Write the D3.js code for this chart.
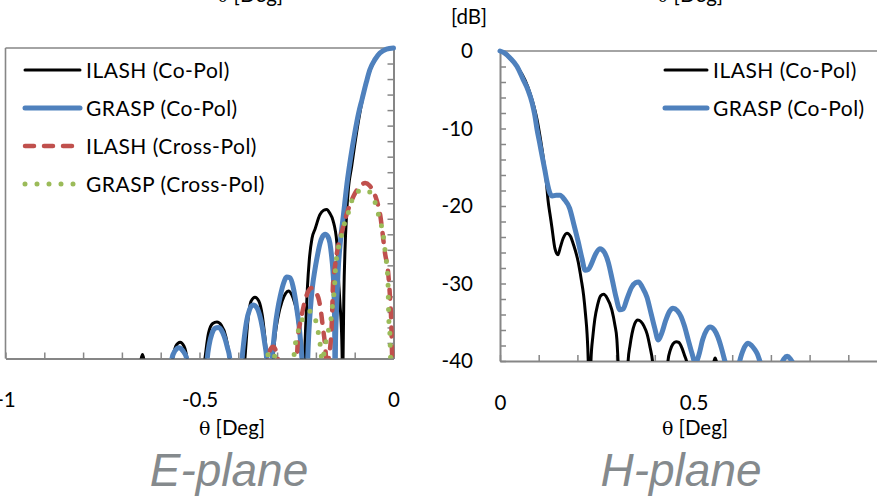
<!DOCTYPE html>
<html>
<head>
<meta charset="utf-8">
<script src="https://cdn.jsdelivr.net/npm/d3@7"></script>
<style>
  html, body { margin: 0; padding: 0; background: #fff; }
  svg { display: block; }
</style>
</head>
<body>
<svg id="chart" width="877" height="498"></svg>
<script>
// ---------------- DATA ----------------
// E-plane, theta [deg] vs level [dB]
const eIlashCo = [[-1,-50],[-0.70,-50],[-0.66,-45],[-0.652,-40.5],[-0.647,-39.5],[-0.642,-40.5],[-0.634,-45],[-0.60,-50],
 [-0.578,-43],[-0.569,-40],[-0.561,-38.4],[-0.55,-37.9],[-0.54,-38.4],[-0.532,-40],[-0.525,-43],[-0.51,-50],
 [-0.494,-43],[-0.486,-40],[-0.477,-36.8],[-0.466,-35.5],[-0.455,-35.3],[-0.444,-35.7],[-0.432,-37.2],[-0.424,-39.5],[-0.418,-43],[-0.405,-50],
 [-0.39,-43],[-0.383,-40],[-0.376,-35.5],[-0.367,-32.6],[-0.357,-32.1],[-0.347,-32.6],[-0.338,-34.5],[-0.331,-37.5],[-0.326,-40],[-0.321,-44],[-0.317,-50],
 [-0.313,-43],[-0.31,-40],[-0.305,-37],[-0.299,-35],[-0.287,-32.6],[-0.278,-31.6],[-0.271,-31.3],[-0.262,-31.8],[-0.255,-32.8],[-0.249,-34],[-0.243,-36.5],[-0.238,-39],[-0.235,-43],[-0.232,-50],
 [-0.229,-40],[-0.226,-35.5],[-0.222,-31],[-0.217,-27.3],[-0.21,-24.5],[-0.202,-23.3],[-0.19,-21.5],[-0.18,-20.9],[-0.172,-20.8],[-0.164,-21.3],[-0.156,-22.2],[-0.146,-25.1],[-0.143,-28.6],[-0.138,-32.9],[-0.1335,-37.2],[-0.132,-41],[-0.131,-46],
 [-0.13,-40],[-0.128,-32],[-0.125,-26],[-0.121,-21.5],[-0.116,-18],[-0.108,-15.3],[-0.1,-12.5],[-0.09,-9.3],[-0.08,-6.6],[-0.07,-4.4],[-0.06,-2.8],[-0.048,-1.5],[-0.034,-0.6],[-0.018,-0.15],[0,0]];

const eGraspCo = [[-1,-50],[-0.60,-50],
 [-0.58,-50],[-0.575,-43],[-0.571,-40],[-0.563,-39],[-0.553,-38.6],[-0.543,-39],[-0.533,-40],[-0.528,-43],[-0.52,-50],
 [-0.49,-50],[-0.484,-43],[-0.48,-40],[-0.475,-38.2],[-0.468,-36.8],[-0.46,-36.1],[-0.452,-36],[-0.444,-36.3],[-0.436,-37.2],[-0.428,-38.6],[-0.422,-40],[-0.418,-43],[-0.41,-50],
 [-0.40,-50],[-0.394,-44],[-0.39,-40],[-0.385,-37.5],[-0.379,-35.3],[-0.371,-33.7],[-0.362,-33.1],[-0.353,-33.4],[-0.345,-34.4],[-0.338,-36],[-0.332,-38],[-0.327,-40],[-0.324,-43],[-0.322,-50],
 [-0.316,-44],[-0.313,-40],[-0.309,-37.8],[-0.305,-35.9],[-0.299,-33.8],[-0.292,-32],[-0.284,-30.4],[-0.275,-29.5],[-0.267,-29.6],[-0.259,-30.7],[-0.254,-32],[-0.249,-33.7],[-0.244,-35.5],[-0.24,-37.5],[-0.236,-40],[-0.233,-44],[-0.229,-50],
 [-0.226,-48],[-0.223,-44],[-0.221,-40],[-0.218,-36.5],[-0.214,-33.5],[-0.209,-30.8],[-0.203,-28.7],[-0.197,-27],[-0.19,-25.3],[-0.183,-24.3],[-0.176,-24],[-0.169,-24.3],[-0.164,-25.1],[-0.16,-26.6],[-0.156,-28.8],[-0.153,-32],[-0.1515,-37],[-0.1505,-44],
 [-0.1495,-38],[-0.147,-34],[-0.143,-29],[-0.137,-25],[-0.129,-21.5],[-0.12,-17.5],[-0.11,-14],[-0.1,-11],[-0.09,-8.4],[-0.081,-6.6],[-0.07,-4.4],[-0.061,-2.8],[-0.048,-1.5],[-0.035,-0.65],[-0.018,-0.15],[0,0]];

const eIlashCross = [[-1,-50],[-0.34,-50],[-0.327,-43],[-0.323,-40],[-0.317,-38.8],[-0.31,-38.5],[-0.304,-38.9],[-0.298,-40],[-0.294,-43],[-0.285,-50],
 [-0.262,-50],[-0.253,-43],[-0.249,-40],[-0.246,-37.2],[-0.241,-35.5],[-0.236,-34.3],[-0.228,-32.5],[-0.219,-31.3],[-0.21,-30.9],[-0.2,-31.5],[-0.192,-32.5],[-0.186,-34.3],[-0.182,-36],[-0.177,-38],[-0.174,-40],[-0.171,-45],
 [-0.169,-42],[-0.167,-40],[-0.164,-38.9],[-0.16,-36.5],[-0.158,-34],[-0.156,-30.5],[-0.151,-28.2],[-0.143,-25.6],[-0.13,-23.1],[-0.12,-21.3],[-0.11,-19.9],[-0.099,-18.7],[-0.086,-17.8],[-0.073,-17.4],[-0.062,-17.7],[-0.053,-18.4],[-0.046,-19.2],[-0.04,-20.2],[-0.034,-21.6],[-0.03,-23.1],[-0.022,-26.4],[-0.014,-28.8],[-0.009,-32.1],[-0.006,-35],[-0.004,-38.9],[-0.003,-41],[0,-50]];

const eGraspCross = [[-1,-50],[-0.345,-50],[-0.331,-42],[-0.326,-40],[-0.32,-39.2],[-0.315,-39],[-0.31,-39.3],[-0.305,-40],[-0.3,-42],[-0.285,-50],
 [-0.27,-50],[-0.261,-43],[-0.257,-40],[-0.254,-38.5],[-0.247,-36.8],[-0.241,-35.7],[-0.233,-34.8],[-0.223,-34.1],[-0.214,-33.9],[-0.206,-34.2],[-0.2,-35.2],[-0.194,-36.6],[-0.189,-38.2],[-0.186,-39.7],[-0.183,-40.3],
 [-0.18,-39.6],[-0.176,-38.3],[-0.171,-37.2],[-0.166,-36],[-0.16,-34.5],[-0.158,-33.5],[-0.155,-32.3],[-0.152,-30.8],[-0.15,-28.8],[-0.143,-26],[-0.136,-24.6],[-0.13,-23.2],[-0.124,-22.3],[-0.117,-21.3],[-0.104,-19.2],[-0.092,-18.5],[-0.081,-18.3],[-0.068,-18.4],[-0.055,-18.9],[-0.045,-20.3],[-0.035,-22.2],[-0.027,-23.9],[-0.022,-26],[-0.017,-28.2],[-0.014,-30.5],[-0.013,-33],[-0.012,-35],[-0.009,-37.2],[-0.008,-39.3],[-0.006,-41],[0,-50]];

// H-plane
const hIlashCo = [[0,0],[0.013,-0.3],[0.026,-1],[0.047,-2.2],[0.065,-3.8],[0.078,-5.5],[0.088,-7.2],[0.096,-8.9],[0.104,-11.2],[0.113,-14.2],[0.12,-17],[0.124,-19.2],[0.129,-21],[0.134,-22.7],[0.142,-25.5],[0.15,-26.3],[0.156,-25.3],[0.163,-24.2],[0.173,-23.5],[0.182,-23.9],[0.19,-25],[0.202,-27.2],[0.21,-29.5],[0.216,-31.5],[0.221,-34],[0.225,-36.5],[0.228,-40],[0.23,-45],
 [0.232,-45],[0.235,-40],[0.24,-36.8],[0.245,-34.6],[0.252,-32.8],[0.26,-31.6],[0.268,-31.4],[0.277,-31.9],[0.289,-33.4],[0.297,-35.4],[0.302,-37.2],[0.305,-40],[0.309,-45],[0.318,-50],
 [0.327,-45],[0.331,-40],[0.336,-38],[0.341,-36.5],[0.348,-35.2],[0.356,-34.7],[0.364,-34.9],[0.372,-35.5],[0.38,-36.5],[0.388,-38.3],[0.394,-40],[0.4,-44],[0.415,-50],
 [0.428,-44],[0.434,-40],[0.44,-38.6],[0.447,-37.8],[0.455,-37.5],[0.462,-37.6],[0.47,-38.3],[0.477,-39.3],[0.483,-40.3],[0.49,-44],[0.52,-50],
 [0.548,-42],[0.553,-40],[0.556,-39.6],[0.559,-40],[0.565,-42],[0.6,-50],[1,-50]];

const hGraspCo = [[0,0],[0.013,-0.3],[0.026,-0.9],[0.044,-2],[0.06,-3.7],[0.072,-5],[0.083,-6.7],[0.09,-8.3],[0.096,-10.2],[0.103,-12],[0.109,-13.6],[0.116,-15.4],[0.122,-17],[0.128,-18.2],[0.135,-18.7],[0.145,-18.6],[0.155,-18.6],[0.167,-19.2],[0.18,-20.3],[0.19,-22.2],[0.202,-24.6],[0.212,-26.8],[0.22,-28.3],[0.228,-28.2],[0.236,-27.5],[0.246,-26.3],[0.258,-25.5],[0.27,-26],[0.28,-27.3],[0.29,-29.5],[0.3,-31.8],[0.31,-33.4],[0.318,-33.3],[0.328,-32],[0.34,-30.5],[0.35,-29.9],[0.358,-29.8],[0.368,-30.5],[0.38,-31.8],[0.39,-33.8],[0.4,-35.8],[0.409,-37.3],[0.418,-36.4],[0.428,-34.8],[0.438,-33.6],[0.447,-33.2],[0.458,-33.5],[0.468,-34.3],[0.476,-35.4],[0.486,-37.2],[0.496,-39],[0.505,-40.3],[0.514,-39.2],[0.524,-37.2],[0.534,-36],[0.543,-35.6],[0.554,-36],[0.563,-36.9],[0.572,-38.3],[0.581,-40],[0.592,-42],[0.604,-42.3],[0.615,-40.8],[0.624,-39.2],[0.633,-38.1],[0.641,-37.7],[0.65,-38],[0.658,-38.5],[0.665,-39.1],[0.672,-40.1],[0.69,-43],[0.71,-43],[0.726,-40.5],[0.734,-39.7],[0.742,-39.4],[0.75,-39.7],[0.757,-40.3],[0.77,-43],[0.8,-47],[1,-50]];

const eXTicks = [-1,-0.9,-0.8,-0.7,-0.6,-0.5,-0.4,-0.3,-0.2,-0.1,0];
const eXLabels = [-1,-0.5,0];
const hXTicks = [0,0.1,0.2,0.3,0.4,0.5,0.6,0.7,0.8,0.9,1];
const hXLabels = [0,0.5];
const yMinorTicks = [-40,-38,-36,-34,-32,-30,-28,-26,-24,-22,-20,-18,-16,-14,-12,-10,-8,-6,-4,-2,0];
const yLabels = [0,-10,-20,-30,-40];
const eLegend = ["ILASH (Co-Pol)","GRASP (Co-Pol)","ILASH (Cross-Pol)","GRASP (Cross-Pol)"];
const hLegend = ["ILASH (Co-Pol)","GRASP (Co-Pol)"];

// ---------------- STYLE ----------------
const axisColor = "#868686";
const font = "Lato, 'Open Sans', sans-serif";
const styles = {
  ilashCo:   {stroke:"#000000", width:3,   dash:null, cap:"round"},
  graspCo:   {stroke:"#4f81bd", width:5,   dash:null, cap:"round"},
  ilashCross:{stroke:"#c0504d", width:4.5, dash:"9,10", cap:"round"},
  graspCross:{stroke:"#9bbb59", width:5,   dash:"0,12", cap:"round"}
};

const svg = d3.select("#chart");
const fmt = d => String(d);

function thetaTitle(g, x, y) {
  const t = g.append("text").attr("x", x).attr("y", y).attr("text-anchor", "middle")
    .style("font-family", font).style("font-size", "20.5px").attr("fill", "#000");
  t.append("tspan").style("font-family", "'DejaVu Serif', serif").style("font-size", "19px").text("θ");
  t.append("tspan").text(" [Deg]");
}

function panel(cfg) {
  const x = d3.scaleLinear().domain(cfg.xDomain).range(cfg.xRange);
  const y = d3.scaleLinear().domain([-40, 0]).range(cfg.yRange);
  const g = svg.append("g");
  const [x0, x1] = cfg.xRange;
  const [yb, yt] = cfg.yRange;

  // frame (top & far side)
  g.append("line").attr("x1", x0).attr("x2", x1).attr("y1", yt).attr("y2", yt)
    .attr("stroke", axisColor).attr("stroke-width", 1.6);
  g.append("line").attr("x1", cfg.frameX).attr("x2", cfg.frameX).attr("y1", yt).attr("y2", yb)
    .attr("stroke", axisColor).attr("stroke-width", 1.6);

  // x axis ticks (inside)
  const xa = d3.axisBottom(x).tickValues(cfg.xTicks).tickSize(-6).tickSizeOuter(0).tickFormat("");
  const xg = g.append("g").attr("transform", `translate(0,${yb})`).call(xa);
  xg.select(".domain").attr("stroke", axisColor).attr("stroke-width", 2);
  xg.selectAll(".tick line").attr("stroke", axisColor).attr("stroke-width", 1.5);

  // x labels
  const xl = d3.axisBottom(x).tickValues(cfg.xLabels).tickSize(0).tickPadding(0).tickFormat(fmt);
  const xlg = g.append("g").attr("transform", `translate(0,${yb + 42})`).call(xl);
  xlg.select(".domain").remove();
  xlg.selectAll("text").style("font-family", font).style("font-size", "20.5px").attr("fill", "#000").attr("dy", "0.32em");

  // y axis at theta = 0, ticks inside the plot
  const yx = x(0);
  const ya = (cfg.yInsideRight ? d3.axisRight(y) : d3.axisLeft(y))
    .tickValues(yMinorTicks).tickSize(6).tickSizeOuter(0).tickFormat("");
  const yg = g.append("g").attr("transform", `translate(${yx},0)`).call(ya);
  yg.select(".domain").attr("stroke", axisColor).attr("stroke-width", 2);
  yg.selectAll(".tick line").attr("stroke", axisColor).attr("stroke-width", 1.5);

  if (cfg.yLabels) {
    const yl = d3.axisLeft(y).tickValues(yLabels).tickSize(0).tickPadding(27).tickFormat(fmt);
    const ylg = g.append("g").attr("transform", `translate(${yx},0)`).call(yl);
    ylg.select(".domain").remove();
    ylg.selectAll("text").style("font-family", font).style("font-size", "20.5px").attr("fill", "#000");
  }

  // clip
  const id = "clip" + cfg.name;
  svg.append("clipPath").attr("id", id).append("rect")
    .attr("x", Math.min(x0, x1) - 3).attr("y", yt - 5)
    .attr("width", Math.abs(x1 - x0) + 6).attr("height", yb - yt + 5);

  const line = d3.line().x(d => x(d[0])).y(d => y(d[1])).curve(d3.curveMonotoneX);
  const lg = g.append("g").attr("clip-path", `url(#${id})`);
  cfg.series.forEach(s => {
    const st = styles[s.style];
    lg.append("path").datum(s.data).attr("d", line)
      .attr("fill", "none").attr("stroke", st.stroke).attr("stroke-width", st.width)
      .attr("stroke-linecap", st.cap).attr("stroke-linejoin", "round")
      .attr("stroke-dasharray", st.dash);
  });

  // legend
  const leg = g.append("g");
  cfg.legend.forEach((name, i) => {
    const st = styles[cfg.legendStyles[i]];
    const ly = cfg.legendY[i];
    leg.append("line").attr("x1", cfg.legendX[0]).attr("x2", cfg.legendX[1]).attr("y1", ly).attr("y2", ly)
      .attr("stroke", st.stroke).attr("stroke-width", st.width).attr("stroke-linecap", st.cap)
      .attr("stroke-dasharray", st.dash);
    leg.append("text").attr("x", cfg.legendX[1] + 6).attr("y", ly).attr("dy", "0.36em")
      .style("font-family", font).style("font-size", "21px").style("letter-spacing", "0.5px")
      .attr("fill", "#000").text(name);
  });

  // axis title
  thetaTitle(g, cfg.titleX, 435);
  // partial title from the panel above
  thetaTitle(g, cfg.topTitleX, 2);
  // plane label
  g.append("text").attr("x", cfg.planeX).attr("y", 486).attr("text-anchor", "middle")
    .style("font-family", "'Liberation Sans', Arial, sans-serif").style("font-style", "italic")
    .style("font-size", "46px").attr("fill", "#858a8d").text(cfg.plane);
}

panel({
  name: "E", xDomain: [-1, 0], xRange: [5.5, 393.5], yRange: [358.5, 48], frameX: 5.5,
  xTicks: eXTicks, xLabels: eXLabels, yInsideRight: false, yLabels: false,
  series: [
    {data: eIlashCo, style: "ilashCo"},
    {data: eGraspCo, style: "graspCo"},
    {data: eIlashCross, style: "ilashCross"},
    {data: eGraspCross, style: "graspCross"}
  ],
  legend: eLegend, legendStyles: ["ilashCo","graspCo","ilashCross","graspCross"],
  legendX: [25, 80], legendY: [70, 108, 146, 184],
  titleX: 232, topTitleX: 250, planeX: 229, plane: "E-plane"
});

panel({
  name: "H", xDomain: [0, 1], xRange: [500, 887], yRange: [361, 51], frameX: 887,
  xTicks: hXTicks, xLabels: hXLabels, yInsideRight: true, yLabels: true,
  series: [
    {data: hIlashCo, style: "ilashCo"},
    {data: hGraspCo, style: "graspCo"}
  ],
  legend: hLegend, legendStyles: ["ilashCo","graspCo"],
  legendX: [665, 707], legendY: [70, 108],
  titleX: 695, topTitleX: 690, planeX: 681, plane: "H-plane"
});

// y unit label
svg.append("text").attr("x", 469).attr("y", 24).attr("text-anchor", "middle")
  .style("font-family", font).style("font-size", "20.5px").attr("fill", "#000").text("[dB]");
</script>
</body>
</html>
